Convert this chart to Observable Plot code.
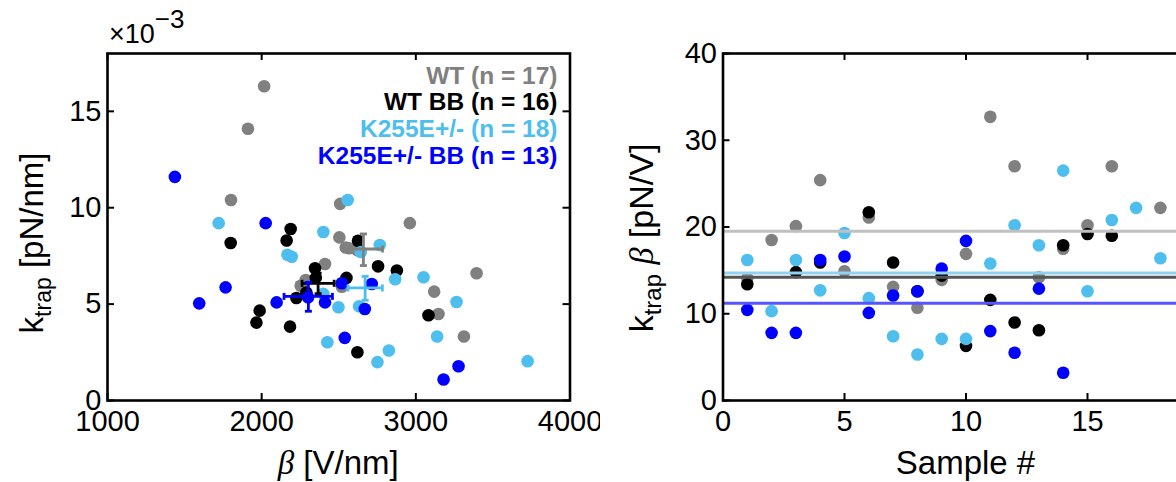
<!DOCTYPE html>
<html><head><meta charset="utf-8">
<script src="https://cdn.jsdelivr.net/npm/d3@7"></script>
<script src="https://cdn.jsdelivr.net/npm/@observablehq/plot@0.6"></script>
<style>
html,body{margin:0;padding:0;background:#fff;overflow:hidden;width:1176px;height:482px;}
#wrap{position:relative;width:1176px;height:482px;overflow:hidden;background:#fff;}
#left{position:absolute;left:0;top:0;width:600px;}
#right{position:absolute;left:600px;top:0;width:640px;}
#wrap svg{max-width:none !important;}
</style></head><body><div id="wrap"><div id="left"></div><div id="right"></div></div>
<script>
// ---------- data ----------
const groupLabels = ["WT (n = 17)", "WT BB (n = 16)", "K255E+/- (n = 18)", "K255E+/- BB (n = 13)"];
const groupColors = ["#808080", "#000000", "#4DBEEE", "#0000FF"];
const meanLineColors = ["#c0c0c0", "#555555", "#8fd3f0", "#5555ff"];

// left panel: beta [V/nm] vs k_trap [pN/nm] (x 1e-3)
const wtBeta   = [2016, 1911, 1801, 2509, 2961, 2504, 2567, 2411, 3119, 2286, 2253, 3147, 3394, 3312, 2545, 2620, 2520];
const wtK      = [16.3, 14.1, 10.4, 10.2, 9.2, 8.46, 7.9, 7.08, 5.65, 6.25, 5.95, 4.49, 6.6, 3.32, 7.94, 7.8, 5.9];
const wtbbBeta = [2188, 1799, 2162, 2625, 2346, 2755, 2877, 2351, 2550, 2225, 1987, 1966, 2184, 2621, 3082, 2290];
const wtbbK    = [8.9, 8.17, 8.3, 8.29, 6.86, 6.96, 6.74, 6.36, 6.36, 5.32, 4.66, 4.04, 3.83, 2.5, 4.42, 5.6];
const kBeta    = [2558, 1721, 2400, 2766, 2643, 2167, 2195, 2866, 3050, 2400, 2498, 2632, 2426, 2825, 2751, 3138, 3264, 3725];
const kK       = [10.4, 9.2, 8.74, 8.07, 7.7, 7.56, 7.46, 6.29, 6.39, 5.53, 4.84, 4.89, 3.02, 2.59, 1.99, 3.32, 5.11, 2.04];
const kbbBeta  = [1437, 2026, 2519, 2714, 1766, 1595, 2097, 2411, 2669, 2539, 3180, 3277, 2301];
const kbbK     = [11.6, 9.2, 6.08, 6.04, 5.87, 5.04, 5.09, 5.09, 4.75, 3.25, 1.09, 1.78, 5.36];

// group means with error bars
const meanBeta   = [2660, 2366, 2671, 2303];
const meanBetaLo = [2535, 2262, 2560, 2145];
const meanBetaHi = [2784, 2470, 2783, 2459];
const meanK      = [7.86, 6.08, 5.84, 5.4];
const meanKLo    = [7.0, 5.54, 5.2, 4.63];
const meanKHi    = [8.64, 6.6, 6.44, 6.13];

// right panel: k_trap*beta [pN/V] per sample
const wtSample   = [1, 2, 3, 4, 5, 6, 7, 8, 9, 10, 11, 12, 13, 14, 15, 16, 18];
const wtProd     = [14.1, 18.5, 20.1, 25.4, 14.9, 21.1, 13.1, 10.7, 13.9, 16.9, 32.7, 27.0, 14.2, 17.5, 20.2, 27.0, 22.2];
const wtbbSample = [1, 3, 4, 6, 7, 8, 9, 10, 11, 12, 13, 14, 15, 16];
const wtbbProd   = [13.4, 14.8, 15.9, 21.7, 15.9, 12.6, 14.4, 6.3, 11.6, 9.0, 8.1, 17.9, 19.2, 19.0];
const kSample    = [1, 2, 3, 4, 5, 6, 7, 8, 9, 10, 11, 12, 13, 14, 15, 16, 17, 18];
const kProd      = [16.2, 10.3, 16.2, 12.7, 19.3, 11.8, 7.4, 5.3, 7.1, 7.1, 15.8, 20.2, 17.9, 26.5, 12.6, 20.8, 22.2, 16.4];
const kbbSample  = [1, 2, 3, 4, 5, 6, 7, 8, 9, 10, 11, 12, 13, 14];
const kbbProd    = [10.45, 7.8, 7.8, 16.2, 16.6, 10.1, 12.1, 12.6, 15.2, 18.4, 8.0, 5.5, 12.9, 3.2];
const meanProd   = [19.5, 14.2, 14.7, 11.2];

const xTicksL = [1000, 2000, 3000, 4000];
const yTicksL = [0, 5, 10, 15];
const xTicksR = [0, 5, 10, 15, 20];
const xLabelsR = [0, 5, 10, 15];   // "20" lies beyond the visible window
const yTicksR = [0, 10, 20, 30, 40];

// ---------- helpers ----------
const FONT = "'Liberation Sans', Arial, Helvetica, sans-serif";
const SERIF = "'Liberation Serif', 'DejaVu Serif', serif";
const H = 482, mT = 53, mB = 82;
const innerH = H - mT - mB;
const TL = 7;

const hCap = {draw(ctx, size) { const r = Math.sqrt(size / Math.PI); ctx.moveTo(-r, 0); ctx.lineTo(r, 0); }};
const vCap = {draw(ctx, size) { const r = Math.sqrt(size / Math.PI); ctx.moveTo(0, -r); ctx.lineTo(0, r); }};

function zipXY(xs, ys) { return xs.map((x, i) => ({x, y: ys[i]})); }

function frameAndTicks(xt, xl, yt, innerW) {
  return [
    Plot.tickX(xt, {x: d => d, insetBottom: innerH - TL, stroke: "black", strokeWidth: 2}),
    Plot.tickX(xt, {x: d => d, insetTop: innerH - TL, stroke: "black", strokeWidth: 2}),
    Plot.tickY(yt, {y: d => d, insetRight: innerW - TL, stroke: "black", strokeWidth: 2}),
    Plot.tickY(yt, {y: d => d, insetLeft: innerW - TL, stroke: "black", strokeWidth: 2}),
    Plot.frame({stroke: "black", strokeWidth: 2.6}),
    Plot.axisX(xl, {tickSize: 0, tickPadding: 10, fontSize: 29, label: null, tickFormat: d => String(d)}),
    Plot.axisY(yt, {tickSize: 0, tickPadding: 6, fontSize: 29, label: null, tickFormat: d => String(d)})
  ];
}

// ---------- left plot ----------
const WL = 600, mLL = 107, mRL = 30.5;
const innerWL = WL - mLL - mRL;
const leftSets = [zipXY(wtBeta, wtK), zipXY(wtbbBeta, wtbbK), zipXY(kBeta, kK), zipXY(kbbBeta, kbbK)];
const meanRows = meanBeta.map((b, i) => ({b, bl: meanBetaLo[i], bh: meanBetaHi[i], k: meanK[i], kl: meanKLo[i], kh: meanKHi[i], c: groupColors[i]}));

const leftMarks = [];
leftSets.forEach((set, i) => leftMarks.push(Plot.dot(set, {x: "x", y: "y", r: 6.3, fill: groupColors[i], stroke: "none"})));
meanRows.forEach(m => {
  const row = [m];
  leftMarks.push(Plot.ruleY(row, {y: "k", x1: "bl", x2: "bh", stroke: m.c, strokeWidth: 2.8}));
  leftMarks.push(Plot.ruleX(row, {x: "b", y1: "kl", y2: "kh", stroke: m.c, strokeWidth: 2.8}));
  leftMarks.push(Plot.dot(row, {x: "b", y: "kl", symbol: hCap, r: 3.5, stroke: m.c, strokeWidth: 2.8, fill: "none"}));
  leftMarks.push(Plot.dot(row, {x: "b", y: "kh", symbol: hCap, r: 3.5, stroke: m.c, strokeWidth: 2.8, fill: "none"}));
  leftMarks.push(Plot.dot(row, {x: "bl", y: "k", symbol: vCap, r: 3.5, stroke: m.c, strokeWidth: 2.8, fill: "none"}));
  leftMarks.push(Plot.dot(row, {x: "bh", y: "k", symbol: vCap, r: 3.5, stroke: m.c, strokeWidth: 2.8, fill: "none"}));
});
groupLabels.forEach((lab, i) => leftMarks.push(Plot.text([lab], {
  text: d => d, frameAnchor: "top-right", textAnchor: "end", lineAnchor: "bottom",
  dx: -12.5, dy: 30 + i * 26.7, fill: groupColors[i], fontSize: 24.5, fontWeight: "bold"
})));
leftMarks.push(...frameAndTicks(xTicksL, xTicksL, yTicksL, innerWL));

const left = Plot.plot({
  width: WL, height: H, marginLeft: mLL, marginRight: mRL, marginTop: mT, marginBottom: mB,
  x: {domain: [1000, 4000]}, y: {domain: [0, 18]},
  style: {fontFamily: FONT, background: "white", color: "black", overflow: "visible"},
  marks: leftMarks
});
document.getElementById("left").append(left);

// ---------- right plot ----------
const WR = 640, mLR = 122.5, mRR = 31.5;
const innerWR = WR - mLR - mRR;
const rightSets = [zipXY(wtSample, wtProd), zipXY(wtbbSample, wtbbProd), zipXY(kSample, kProd), zipXY(kbbSample, kbbProd)];
const rightMarks = [];
rightSets.forEach((set, i) => rightMarks.push(Plot.dot(set, {x: "x", y: "y", r: 6.3, fill: groupColors[i], stroke: "none"})));
meanProd.forEach((v, i) => rightMarks.push(Plot.ruleY([v], {y: d => d, stroke: meanLineColors[i], strokeWidth: 3})));
rightMarks.push(...frameAndTicks(xTicksR, xLabelsR, yTicksR, innerWR));

const right = Plot.plot({
  width: WR, height: H, marginLeft: mLR, marginRight: mRR, marginTop: mT, marginBottom: mB,
  x: {domain: [0, 20]}, y: {domain: [0, 40]},
  style: {fontFamily: FONT, background: "white", color: "black", overflow: "visible"},
  marks: rightMarks
});
document.getElementById("right").append(right);

// ---------- rich-text labels (subscripts, greek) ----------
function yLabel(svg, x, y, size, parts) {
  const t = d3.select(svg).append("text")
    .attr("transform", `translate(${x},${y}) rotate(-90)`)
    .attr("text-anchor", "middle")
    .attr("font-family", FONT).attr("font-size", size).attr("fill", "black");
  parts(t);
}
yLabel(left, 43, 243, 33, t => {
  t.append("tspan").text("k");
  t.append("tspan").attr("dy", 8).attr("font-size", 23).text("trap");
  t.append("tspan").attr("dy", -8).text(" [pN/nm]");
});
yLabel(right, 53, 238, 34, t => {
  t.append("tspan").text("k");
  t.append("tspan").attr("dy", 8).attr("font-size", 24).text("trap");
  t.append("tspan").attr("dy", -8).text(" ");
  t.append("tspan").attr("font-family", SERIF).attr("font-style", "italic").text("β");
  t.append("tspan").text(" [pN/V]");
});
// x labels
const xl = d3.select(left).append("text").attr("x", mLL + innerWL / 2).attr("y", 474)
  .attr("text-anchor", "middle").attr("font-family", FONT).attr("font-size", 33).attr("fill", "black");
xl.append("tspan").attr("font-family", SERIF).attr("font-style", "italic").text("β");
xl.append("tspan").text(" [V/nm]");
d3.select(right).append("text").attr("x", mLR + innerWR / 2).attr("y", 474)
  .attr("text-anchor", "middle").attr("font-family", FONT).attr("font-size", 33).attr("fill", "black").text("Sample #");
// exponent
const ex = d3.select(left).append("text").attr("x", 109).attr("y", 43).attr("text-anchor", "start")
  .attr("font-family", FONT).attr("font-size", 27).attr("fill", "black");
ex.append("tspan").text("×10");
ex.append("tspan").attr("dy", -15).attr("font-size", 26).text("−3");
</script></body></html>
